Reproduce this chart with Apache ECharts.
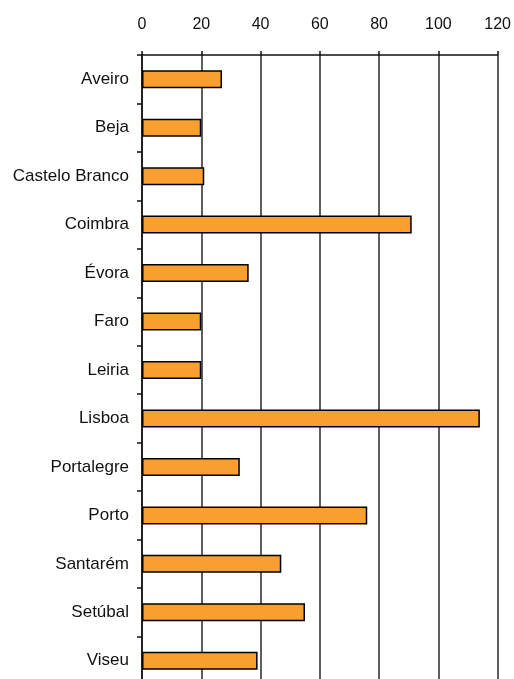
<!DOCTYPE html>
<html>
<head>
<meta charset="utf-8">
<script src="https://cdn.jsdelivr.net/npm/echarts@6/dist/echarts.min.js"></script>
<style>
  html, body { margin: 0; padding: 0; background: #fff; overflow: hidden; }
  /* the plot runs a few pixels past the bottom edge in the original */
  #chart { width: 514px; height: 685px; }
</style>
</head>
<body>
<div id="chart"></div>
<script>
// distritos (de cima para baixo)
var districts = ['Aveiro', 'Beja', 'Castelo Branco', 'Coimbra', 'Évora', 'Faro', 'Leiria',
  'Lisboa', 'Portalegre', 'Porto', 'Santarém', 'Setúbal', 'Viseu'];
var values = [27, 20, 21, 91, 36, 20, 20, 114, 33, 76, 47, 55, 39];
var xTicks = [0, 20, 40, 60, 80, 100, 120];

var myChart = echarts.init(document.getElementById('chart'));
myChart.setOption({
  animation: false,
  textStyle: { fontFamily: 'Liberation Sans, Arial, sans-serif' },
  grid: {
    left: 142,
    right: 15,
    top: 55,
    bottom: 0
  },
  xAxis: {
    type: 'value',
    position: 'top',
    min: xTicks[0],
    max: xTicks[xTicks.length - 1],
    interval: xTicks[1] - xTicks[0],
    axisLine: { show: true, lineStyle: { color: '#111', width: 1.5 } },
    axisTick: { show: true, length: 4, lineStyle: { color: '#111', width: 1.5 } },
    axisLabel: { fontSize: 16, color: '#111', margin: 22 },
    splitLine: { show: true, lineStyle: { color: '#2a2a2a', width: 1.5 } }
  },
  yAxis: {
    type: 'category',
    inverse: true,
    data: districts,
    axisLine: { show: true, lineStyle: { color: '#111', width: 1.5 } },
    axisTick: { show: true, length: 5, lineStyle: { color: '#111', width: 1.5 } },
    axisLabel: { fontSize: 17, color: '#111', margin: 13 },
    splitLine: { show: false }
  },
  series: [{
    type: 'bar',
    data: values,
    barWidth: 18,
    itemStyle: {
      color: '#F89F30',
      borderColor: '#000',
      borderWidth: 1.5
    }
  }]
});
</script>
</body>
</html>
